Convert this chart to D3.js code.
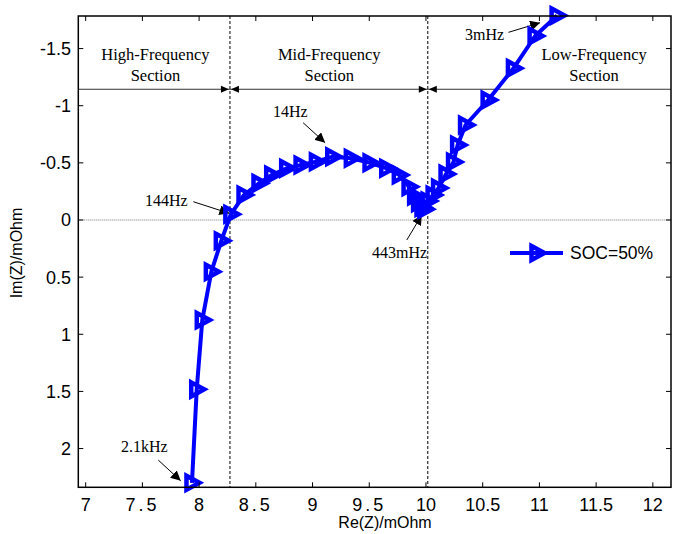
<!DOCTYPE html>
<html>
<head>
<meta charset="utf-8">
<script src="https://cdn.jsdelivr.net/npm/d3@7"></script>
<style>
  html, body { margin: 0; padding: 0; background: #fff; }
  svg { display: block; }
</style>
</head>
<body>
<svg id="chart" width="680" height="534"></svg>
<script>
// Nyquist plot, SOC = 50%
const reZ = [7.937, 7.979, 8.028, 8.108, 8.196, 8.28, 8.396, 8.528, 8.64, 8.772, 8.899,
             9.034, 9.178, 9.342, 9.507, 9.654, 9.765, 9.851, 9.90, 9.935, 9.965, 9.99,
             10.019, 10.063, 10.111, 10.177, 10.243, 10.279, 10.349, 10.548, 10.771, 10.962, 11.156];
const imZ = [2.30, 1.482, 0.875, 0.452, 0.181, -0.05, -0.219, -0.321, -0.394, -0.452, -0.481,
             -0.51, -0.554, -0.54, -0.501, -0.452, -0.394, -0.291, -0.21, -0.15, -0.11, -0.095,
             -0.166, -0.219, -0.28, -0.402, -0.507, -0.656, -0.831, -1.05, -1.327, -1.61, -1.789];

const xTicks = [7, 7.5, 8, 8.5, 9, 9.5, 10, 10.5, 11, 11.5, 12];
const xTickLabels = ["7", "7.5", "8", "8.5", "9", "9.5", "10", "10.5", "11", "11.5", "12"];
const yTicks = [-1.5, -1, -0.5, 0, 0.5, 1, 1.5, 2];
const yTickLabels = ["-1.5", "-1", "-0.5", "0", "0.5", "1", "1.5", "2"];

// section boundaries (Re) and the level of the section divider line (Im)
const boundaries = [8.272, 10.016];
const dividerIm = -1.144;
const sections = [
  { lines: ["High-Frequency", "Section"], re: 7.615 },
  { lines: ["Mid-Frequency", "Section"], re: 9.147 },
  { lines: ["Low-Frequency", "Section"], re: 11.482 }
];
const sectionIm = [-1.40, -1.216];

// frequency call-outs: text anchor and arrow (from -> to), in data units
const callouts = [
  { text: "14Hz",   tx: 8.652,  ty: -0.901, anchor: "start", x1: 8.917, y1: -0.851, x2: 9.111,  y2: -0.676 },
  { text: "144Hz",  tx: 7.523,  ty: -0.122, anchor: "start", x1: 7.949, y1: -0.160, x2: 8.267,  y2: -0.058 },
  { text: "443mHz", tx: 10.010, ty: 0.333,  anchor: "end",   x1: 9.831, y1: 0.175,  x2: 9.963,  y2: -0.044 },
  { text: "3mHz",   tx: 10.345, ty: -1.575, anchor: "start", x1: 10.727, y1: -1.642, x2: 11.006, y2: -1.726 },
  { text: "2.1kHz", tx: 7.312,  ty: 2.031,  anchor: "start", x1: 7.640, y1: 2.101,  x2: 7.838,  y2: 2.282 }
];
const seriesName = "SOC=50%";

const svg = d3.select("#chart");
const pLeft = 78.3, pRight = 671, pTop = 16, pBottom = 487.3;
const x = d3.scaleLinear().domain([6.935, 12.16]).range([pLeft, pRight]);
const y = d3.scaleLinear().domain([-1.785, 2.339]).range([pTop, pBottom]);
const blue = "#0000ff";
const sans = "'Liberation Sans', Arial, sans-serif";
const serif = "'Liberation Serif', 'Times New Roman', serif";

// arrowhead
const defs = svg.append("defs");
defs.append("marker").attr("id", "ah").attr("viewBox", "0 0 10 10")
  .attr("refX", 10).attr("refY", 5).attr("markerWidth", 10).attr("markerHeight", 10)
  .attr("markerUnits", "userSpaceOnUse").attr("orient", "auto")
  .append("path").attr("d", "M0,0 L10,5 L0,10 Z").attr("fill", "#000");

// zero line
svg.append("line")
  .attr("x1", pLeft).attr("x2", pRight).attr("y1", y(0)).attr("y2", y(0))
  .attr("stroke", "#777").attr("stroke-width", 1).attr("stroke-dasharray", "1,1");

// section divider
svg.append("line")
  .attr("x1", pLeft).attr("x2", pRight).attr("y1", y(dividerIm)).attr("y2", y(dividerIm))
  .attr("stroke", "#333").attr("stroke-width", 1);

// boundaries + double arrows
boundaries.forEach(b => {
  svg.append("line")
    .attr("x1", x(b)).attr("x2", x(b)).attr("y1", pTop).attr("y2", pBottom)
    .attr("stroke", "#000").attr("stroke-width", 1).attr("stroke-dasharray", "3,2");
  const cx = x(b), cy = y(dividerIm);
  svg.append("path").attr("d", `M${cx - 1},${cy} L${cx - 9},${cy - 3.5} L${cx - 9},${cy + 3.5} Z`).attr("fill", "#000");
  svg.append("path").attr("d", `M${cx + 1},${cy} L${cx + 9},${cy - 3.5} L${cx + 9},${cy + 3.5} Z`).attr("fill", "#000");
});

// section labels
sections.forEach(s => {
  s.lines.forEach((t, i) => {
    svg.append("text").attr("x", x(s.re)).attr("y", y(sectionIm[i]))
      .attr("text-anchor", "middle").attr("font-family", serif).attr("font-size", 16.5)
      .attr("fill", "#000").text(t);
  });
});

// call-outs
callouts.forEach(c => {
  svg.append("text").attr("x", x(c.tx)).attr("y", y(c.ty))
    .attr("text-anchor", c.anchor).attr("font-family", serif).attr("font-size", 16)
    .attr("fill", "#000").text(c.text);
  svg.append("line").attr("x1", x(c.x1)).attr("y1", y(c.y1)).attr("x2", x(c.x2)).attr("y2", y(c.y2))
    .attr("stroke", "#000").attr("stroke-width", 1).attr("marker-end", "url(#ah)");
});

// data series
const pts = reZ.map((r, i) => [r, imZ[i]]);
svg.append("path").datum(pts)
  .attr("d", d3.line().x(d => x(d[0])).y(d => y(d[1])))
  .attr("fill", "none").attr("stroke", blue).attr("stroke-width", 4).attr("stroke-linejoin", "round");

const tri = "M-5.5,-7 L7.5,0 L-5.5,7 Z";
svg.append("g").selectAll("path").data(pts).join("path")
  .attr("transform", d => `translate(${x(d[0])},${y(d[1])})`)
  .attr("d", tri).attr("fill", "none").attr("stroke", blue).attr("stroke-width", 4.5);

// axes box
svg.append("rect").attr("x", pLeft).attr("y", pTop).attr("width", pRight - pLeft).attr("height", pBottom - pTop)
  .attr("fill", "none").attr("stroke", "#000").attr("stroke-width", 1.5);

// inward ticks
const tl = 5;
xTicks.forEach((t, i) => {
  svg.append("line").attr("x1", x(t)).attr("x2", x(t)).attr("y1", pBottom).attr("y2", pBottom - tl).attr("stroke", "#000");
  svg.append("line").attr("x1", x(t)).attr("x2", x(t)).attr("y1", pTop).attr("y2", pTop + tl).attr("stroke", "#000");
  const lbl = xTickLabels[i];
  svg.append("text").attr("x", x(t)).attr("y", 511)
    .attr("text-anchor", "middle").attr("font-family", sans).attr("font-size", 18)
    .attr("letter-spacing", lbl.length === 3 ? 3 : 0)
    .attr("fill", "#000").text(lbl);
});
yTicks.forEach((t, i) => {
  svg.append("line").attr("x1", pLeft).attr("x2", pLeft + tl).attr("y1", y(t)).attr("y2", y(t)).attr("stroke", "#000");
  svg.append("line").attr("x1", pRight).attr("x2", pRight - tl).attr("y1", y(t)).attr("y2", y(t)).attr("stroke", "#000");
  svg.append("text").attr("x", 71).attr("y", y(t) + 6.5)
    .attr("text-anchor", "end").attr("font-family", sans).attr("font-size", 18)
    .attr("fill", "#000").text(yTickLabels[i]);
});

// axis titles
svg.append("text").attr("x", 385).attr("y", 528).attr("text-anchor", "middle")
  .attr("font-family", sans).attr("font-size", 16).attr("fill", "#000").text("Re(Z)/mOhm");
svg.append("text").attr("transform", "translate(22,253) rotate(-90)").attr("text-anchor", "middle")
  .attr("font-family", sans).attr("font-size", 16).attr("fill", "#000").text("Im(Z)/mOhm");

// legend
const lg = svg.append("g").attr("transform", `translate(${pRight - 161},${y(0) + 33})`);
lg.append("line").attr("x1", 0).attr("x2", 53).attr("stroke", blue).attr("stroke-width", 4);
lg.append("path").attr("transform", "translate(27,0)").attr("d", tri)
  .attr("fill", "none").attr("stroke", blue).attr("stroke-width", 4.5);
lg.append("text").attr("x", 60).attr("y", 6).attr("font-family", sans).attr("font-size", 17.5)
  .attr("fill", "#000").text(seriesName);
</script>
</body>
</html>
